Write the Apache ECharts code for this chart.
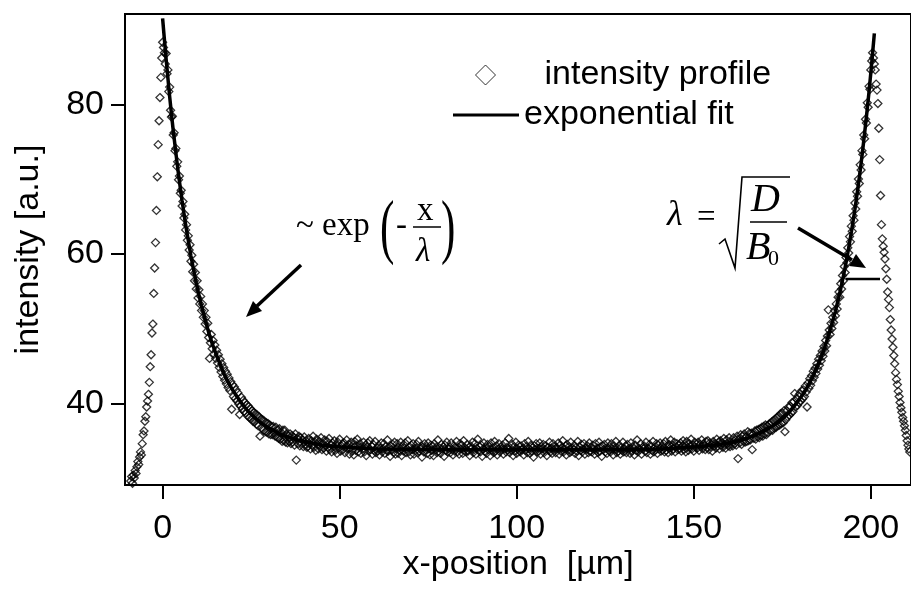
<!DOCTYPE html>
<html>
<head>
<meta charset="utf-8">
<title>intensity profile</title>
<script src="https://cdn.jsdelivr.net/npm/echarts@6.0.0/dist/echarts.min.js"></script>
<style>
  html, body { margin: 0; padding: 0; background: #fff; }
  #chart { width: 911px; height: 591px; }
</style>
</head>
<body>
<div id="chart"></div>
<script>
// measured profile, one value every 0.25 µm starting at x = -9 µm
var xStart = -9;
var xStep = 0.25;
var profile = [
  29.6, 30.2, 29.3, 30.4, 30.0, 31.0, 30.6, 31.5, 32.2, 31.8, 32.8, 33.5, 33.1, 34.6, 35.8, 36.3, 37.6, 38.2, 39.5, 40.3,
  41.2, 42.8, 44.9, 46.5, 49.4, 50.6, 54.7, 58.1, 61.5, 65.8, 70.3, 74.6, 77.8, 80.9, 83.6, 86.2, 88.3, 87.6, 86.9, 85.4,
  86.8, 84.1, 84.6, 81.7, 82.3, 79.2, 78.3, 78.4, 75.9, 76.2, 73.8, 74.1, 71.7, 72.3, 69.9, 70.4, 68.1, 68.5, 66.4, 67.0,
  64.8, 65.3, 63.2, 63.9, 61.8, 62.4, 60.5, 61.2, 59.0, 59.8, 57.6, 58.6, 56.4, 57.5, 55.3, 56.4, 54.1, 55.2, 53.3, 54.3,
  52.4, 53.3, 51.5, 52.4, 50.6, 51.5, 49.6, 50.7, 48.8, 46.0, 48.1, 49.2, 47.3, 48.4, 46.6, 47.8, 46.0, 47.1, 45.4, 46.5,
  44.8, 45.9, 44.2, 45.3, 43.6, 44.8, 43.1, 44.3, 42.6, 43.9, 42.1, 43.4, 41.7, 42.9, 39.2, 42.5, 40.9, 42.2, 40.6, 41.8,
  40.3, 41.4, 39.9, 38.5, 39.6, 40.8, 39.2, 40.4, 38.9, 40.1, 38.7, 39.8, 38.3, 39.6, 38.1, 39.3, 37.9, 39.0, 37.6, 38.8,
  37.5, 38.6, 37.2, 38.4, 37.0, 38.2, 35.6, 37.9, 36.7, 37.8, 36.4, 37.6, 36.2, 37.4, 36.1, 37.3, 35.9, 37.1, 35.8, 36.9,
  35.8, 36.9, 36.0, 35.6, 36.8, 35.5, 36.4, 35.3, 36.6, 35.2, 36.1, 34.9, 36.4, 35.0, 36.4, 34.8, 35.9, 34.7, 35.6, 34.9,
  35.9, 34.6, 35.7, 34.8, 35.5, 34.4, 35.9, 32.4, 35.3, 34.6, 35.6, 34.3, 35.4, 34.7, 35.1, 34.2, 35.5, 34.5, 35.0, 34.1,
  34.2, 35.3, 34.6, 33.9, 35.0, 34.4, 35.6, 34.1, 34.8, 33.7, 35.2, 34.5, 33.9, 34.9, 34.3, 35.4, 33.8, 34.6, 34.0, 35.1,
  34.3, 33.6, 34.9, 34.1, 35.3, 33.8, 34.5, 33.5, 34.7, 34.2, 35.0, 33.7, 34.4, 33.3, 34.8, 34.0, 35.2, 33.6, 34.3, 34.6,
  33.8, 34.7, 33.4, 34.2, 35.1, 33.9, 34.5, 33.2, 34.0, 34.8, 33.6, 34.4, 33.1, 34.9, 33.7, 34.3, 35.2, 33.5, 34.1, 34.6,
  33.3, 34.2, 33.9, 34.8, 33.5, 34.4, 33.0, 34.1, 34.7, 33.6, 35.0, 33.8, 34.3, 33.2, 34.5, 33.7, 34.9, 33.4, 34.0, 33.6,
  34.4, 33.1, 34.0, 34.7, 33.5, 33.9, 34.6, 33.3, 34.2, 33.7, 35.1, 33.6, 34.1, 32.9, 34.3, 33.8, 34.5, 33.4, 34.8, 33.2,
  33.9, 34.6, 33.3, 34.1, 33.7, 34.8, 33.0, 34.3, 33.6, 34.0, 34.7, 33.4, 33.9, 35.0, 33.5, 34.2, 33.1, 34.4, 33.8, 34.6,
  33.2, 34.0, 33.7, 34.5, 33.4, 34.9, 33.6, 33.9, 34.3, 32.8, 34.1, 33.5, 34.6, 33.8, 34.2, 33.3, 34.7, 33.9, 33.1, 34.4,
  33.7, 34.3, 33.0, 34.6, 33.8, 34.1, 33.4, 35.1, 33.6, 34.0, 33.3, 34.5, 33.9, 34.2, 32.9, 34.4, 33.7, 34.8, 33.5, 33.9,
  34.2, 33.4, 34.7, 33.8, 33.1, 34.3, 33.6, 34.0, 34.9, 33.5, 34.1, 33.2, 34.6, 33.9, 34.4, 33.3, 35.0, 33.7, 34.0, 33.5,
  34.5, 33.6, 34.1, 33.0, 34.3, 33.9, 34.8, 33.4, 33.8, 34.6, 33.2, 34.0, 35.2, 33.7, 34.2, 33.5, 34.4, 32.9, 33.9, 34.7,
  33.6, 34.1, 33.3, 34.5, 33.8, 34.2, 33.0, 34.7, 33.7, 34.0, 33.4, 34.9, 33.6, 34.3, 33.1, 33.9, 34.6, 33.5, 34.1, 33.8,
  34.4, 33.2, 33.9, 34.7, 33.5, 34.1, 33.8, 35.3, 33.4, 34.0, 33.7, 34.5, 33.0, 34.2, 33.6, 34.8, 33.3, 33.9, 34.4, 33.7,
  33.5, 34.3, 33.8, 34.0, 33.1, 34.6, 33.7, 34.2, 33.4, 34.9, 33.9, 33.3, 34.4, 33.6, 34.1, 32.8, 34.3, 33.8, 34.6, 33.5,
  34.0, 33.6, 34.7, 33.2, 34.2, 33.9, 34.5, 33.4, 33.8, 34.3, 33.0, 34.1, 33.7, 34.8, 33.5, 34.0, 33.3, 34.6, 33.8, 34.2,
  33.4, 34.1, 33.9, 34.7, 33.2, 34.4, 33.6, 34.0, 35.0, 33.5, 33.9, 34.3, 33.1, 34.5, 33.7, 34.2, 33.4, 34.8, 33.6, 34.0,
  33.8, 34.4, 33.3, 34.1, 33.6, 34.9, 33.0, 34.2, 33.7, 34.5, 33.5, 33.9, 34.6, 33.2, 34.0, 33.8, 34.3, 33.4, 34.7, 33.6,
  34.1, 33.5, 34.4, 33.9, 33.2, 34.6, 33.7, 34.0, 33.4, 34.8, 33.6, 34.2, 32.9, 34.3, 33.8, 34.5, 33.5, 34.0, 33.3, 34.7,
  33.7, 34.2, 33.5, 34.6, 33.9, 33.1, 34.3, 33.8, 34.9, 33.4, 34.0, 33.6, 34.4, 33.2, 34.1, 33.7, 34.8, 33.5, 33.9, 34.3,
  33.4, 34.5, 33.8, 34.0, 33.3, 34.7, 33.6, 34.2, 33.9, 33.1, 34.4, 33.7, 35.1, 33.5, 34.0, 33.8, 34.6, 33.2, 34.1, 33.9,
  34.3, 33.6, 34.8, 33.4, 34.0, 33.9, 34.5, 33.2, 34.2, 33.7, 34.9, 33.5, 34.1, 33.8, 34.6, 33.3, 34.4, 33.9, 34.7, 33.6,
  34.2, 33.8, 34.6, 33.5, 34.9, 33.7, 34.3, 33.4, 34.5, 34.0, 35.1, 33.6, 34.4, 33.9, 34.8, 33.5, 34.2, 34.6, 33.8, 34.4,
  33.9, 34.7, 33.6, 34.3, 35.0, 33.8, 34.5, 33.5, 34.9, 34.1, 33.7, 34.6, 34.2, 35.2, 33.9, 34.4, 33.6, 34.8, 34.1, 34.5,
  34.0, 34.8, 33.7, 34.5, 34.2, 35.1, 33.9, 34.6, 34.3, 33.8, 34.9, 34.1, 35.0, 33.8, 34.7, 34.2, 34.5, 33.6, 34.9, 34.3,
  34.6, 34.0, 35.2, 34.3, 34.8, 33.9, 35.0, 34.4, 34.7, 34.1, 35.3, 34.5, 34.0, 35.1, 34.6, 34.3, 35.4, 34.2, 34.9, 34.6,
  34.3, 35.4, 34.6, 35.1, 34.4, 35.6, 32.6, 35.2, 34.7, 35.8, 34.5, 35.6, 34.9, 35.9, 34.8, 35.5, 34.9, 36.2, 35.0, 36.0,
  35.1, 36.0, 33.8, 35.9, 35.3, 36.3, 35.2, 36.4, 35.5, 36.5, 35.4, 36.6, 35.7, 36.8, 35.6, 36.9, 35.9, 37.1, 35.8, 37.0,
  36.1, 37.2, 37.3, 36.4, 37.5, 36.4, 37.7, 36.7, 37.9, 36.8, 38.1, 37.0, 38.3, 37.1, 38.6, 37.3, 38.7, 37.4, 39.0, 36.2,
  37.8, 39.0, 38.2, 39.5, 38.4, 39.6, 38.7, 40.1, 38.9, 40.2, 41.3, 39.5, 40.6, 39.7, 41.0, 40.1, 41.3, 40.3, 41.7, 40.6,
  41.8, 40.9, 42.3, 41.5, 39.5, 42.7, 42.0, 43.3, 42.4, 43.7, 43.0, 44.3, 43.5, 44.7, 44.0, 45.3, 44.6, 45.9, 45.1, 46.4,
  45.7, 47.0, 46.3, 47.6, 47.0, 48.4, 47.7, 49.0, 52.5, 49.8, 49.2, 50.7, 50.0, 51.5, 50.8, 52.4, 51.7, 53.3, 52.6, 54.2,
  54.9, 54.2, 56.0, 55.3, 57.1, 56.4, 58.3, 57.5, 59.5, 58.8, 60.8, 60.1, 62.3, 61.6, 63.7, 63.0, 65.1, 64.5, 66.8, 66.0,
  68.3, 67.7, 70.0, 69.4, 71.9, 71.2, 73.8, 73.3, 75.9, 75.4, 78.0, 77.5, 80.2, 79.6, 82.4, 82.0, 84.6, 85.8, 86.9, 86.2,
  85.4, 84.6, 82.7, 81.9, 80.1, 76.8, 72.6, 67.8, 63.9, 62.0, 61.0, 60.2, 59.3, 58.0, 56.6, 54.9, 53.9, 52.8, 51.2, 49.8,
  48.6, 47.5, 46.4, 45.3, 44.1, 43.2, 42.5, 41.6, 40.9, 40.1, 39.4, 38.8, 38.1, 37.6, 37.0, 36.4, 35.7, 35.0, 34.4, 33.9, 33.5
];

// exponential fit
var fitX = [0, 0.5, 1, 1.5, 2, 2.5, 3, 3.5, 4, 4.5, 5, 5.5, 6, 6.5, 7, 7.5, 8, 8.5, 9, 9.5, 10,
  11, 12, 13, 14, 15, 16, 17, 18, 19, 20, 22, 24, 26, 28, 30, 32, 34, 36, 38, 40, 45, 50,
  60, 70, 80, 100, 120, 130, 141, 151, 156, 161, 163, 165, 167, 169, 171, 173, 175, 177, 179, 181,
  182, 183, 184, 185, 186, 187, 188, 189, 190, 191, 191.5, 192, 192.5, 193, 193.5, 194, 194.5, 195,
  195.5, 196, 196.5, 197, 197.5, 198, 198.5, 199, 199.5, 200, 200.5, 201];
var fitY = [91.5, 88.7, 86.0, 83.5, 81.0, 78.7, 76.5, 74.5, 72.5, 70.6, 68.8, 67.1, 65.5, 63.9, 62.5, 61.1, 59.7, 58.5, 57.3, 56.1, 55.0,
  53.0, 51.2, 49.5, 48.0, 46.7, 45.5, 44.3, 43.3, 42.4, 41.6, 40.2, 39.0, 38.1, 37.3, 36.7, 36.2, 35.7, 35.4, 35.1, 34.9, 34.4, 34.2,
  33.9, 33.85, 33.8, 33.8, 33.8, 33.8, 33.9, 34.2, 34.4, 34.8, 35.05, 35.3, 35.7, 36.1, 36.6, 37.2, 37.9, 38.85, 40.0, 41.3,
  42.1, 43.0, 44.0, 45.05, 46.2, 47.5, 49.0, 50.6, 52.3, 54.3, 55.3, 56.45, 57.6, 58.8, 60.1, 61.5, 62.9, 64.4,
  65.9, 67.6, 69.3, 71.1, 73.05, 75.1, 77.2, 79.4, 81.7, 84.2, 86.8, 89.5];

var xTicks = [0, 50, 100, 150, 200];
var yTicks = [40, 60, 80];

var profileData = profile.map(function (v, i) { return [xStart + i * xStep, v]; });
var fitData = fitX.map(function (x, i) { return [x, fitY[i]]; });

var sans = 'Liberation Sans';
var serif = '"Liberation Serif"';

function txt(x, y, s, font, extra) {
  var el = {
    type: 'text', x: x, y: y, silent: true,
    style: { text: s, font: font, fill: '#000', textVerticalAlign: 'middle' }
  };
  if (extra) { for (var k in extra) el[k] = extra[k]; }
  return el;
}
function seg(x1, y1, x2, y2, w) {
  return { type: 'line', silent: true, shape: { x1: x1, y1: y1, x2: x2, y2: y2 },
    style: { stroke: '#000', lineWidth: w } };
}
function head(points) {
  return { type: 'polygon', silent: true, shape: { points: points }, style: { fill: '#000' } };
}

var chart = echarts.init(document.getElementById('chart'));
chart.setOption({
  animation: false,
  backgroundColor: '#fff',
  grid: { left: 125, top: 14, right: -2, bottom: 106, show: true, borderColor: '#000', borderWidth: 2 },
  legend: [
    {
      data: [{ name: 'intensity profile', icon: 'path://M10,0 L20,10 L10,20 L0,10 Z' }],
      left: 475, top: 58, padding: 0, itemWidth: 108, itemHeight: 20, symbolKeepAspect: true,
      selectedMode: false,
      itemStyle: { color: '#fff', borderColor: '#000', borderWidth: 1 },
      textStyle: { fontSize: 34, fontFamily: sans, color: '#000' }
    },
    {
      data: [{ name: 'exponential fit', icon: 'rect' }],
      left: 453, top: 98, padding: 0, itemWidth: 66, itemHeight: 3,
      selectedMode: false,
      itemStyle: { color: '#000', borderWidth: 0 },
      textStyle: { fontSize: 34, fontFamily: sans, color: '#000' }
    }
  ],
  xAxis: {
    type: 'value', min: -10.62, max: 211.35,
    name: 'x-position  [µm]', nameLocation: 'middle', nameGap: 63, nameMoveOverlap: false,
    nameTextStyle: { fontSize: 34, fontFamily: sans, color: '#000' },
    axisLine: { show: true, lineStyle: { color: '#000', width: 2 } },
    axisTick: { show: true, length: 14, customValues: xTicks, lineStyle: { color: '#000', width: 2 } },
    axisLabel: { customValues: xTicks, margin: 27, fontSize: 34, fontFamily: sans, color: '#000' },
    splitLine: { show: false }
  },
  yAxis: {
    type: 'value', min: 29.07, max: 92.08,
    name: 'intensity [a.u.]', nameLocation: 'middle', nameGap: 79, nameMoveOverlap: false,
    nameTextStyle: { fontSize: 34, fontFamily: sans, color: '#000' },
    axisLine: { show: true, onZero: false, lineStyle: { color: '#000', width: 2 } },
    axisTick: { show: true, length: 14, customValues: yTicks, lineStyle: { color: '#000', width: 2 } },
    axisLabel: { customValues: yTicks, margin: 21, fontSize: 34, fontFamily: sans, color: '#000' },
    splitLine: { show: false }
  },
  series: [
    {
      name: 'intensity profile', type: 'scatter', data: profileData,
      symbol: 'diamond', symbolSize: 8, silent: true,
      itemStyle: { color: 'rgba(255,255,255,0)', borderColor: '#000', borderWidth: 1.3 }
    },
    {
      name: 'exponential fit', type: 'line', data: fitData,
      symbol: 'none', showSymbol: false, silent: true,
      lineStyle: { color: '#000', width: 3.5 }, itemStyle: { color: '#000' }
    }
  ],
  graphic: [
    // ~ exp(-x/λ)
    txt(296, 226, '~ exp', '33px ' + serif),
    txt(380, 231, '(', '72px ' + serif, { scaleX: 0.6 }),
    txt(396, 226, '-', '33px ' + serif),
    txt(417, 211, 'x', '33px ' + serif),
    seg(413, 227, 441, 227, 1.5),
    txt(416, 252, 'λ', 'italic 33px ' + serif),
    txt(441, 231, ')', '72px ' + serif, { scaleX: 0.6 }),
    seg(301, 265, 257, 306, 3.5),
    head([[246, 317], [262, 311], [253, 301]]),
    // λ = sqrt(D / B0)
    txt(667, 216, 'λ', 'italic 36px ' + serif),
    txt(697, 218, '=', '33px ' + serif),
    { type: 'polyline', silent: true,
      shape: { points: [[719, 244], [725, 239], [735, 268], [742, 177], [790, 177]] },
      style: { stroke: '#000', lineWidth: 1.6, fill: null } },
    txt(751, 200, 'D', 'italic 40px ' + serif),
    seg(750, 222, 787, 222, 1.5),
    txt(746, 248, 'B', 'italic 40px ' + serif),
    txt(768, 259, '0', '22px ' + serif),
    seg(798, 228, 852, 260, 3.5),
    head([[866, 268], [849, 266], [856, 254]]),
    seg(846, 279, 880, 279, 2.5)
  ]
});
</script>
</body>
</html>
